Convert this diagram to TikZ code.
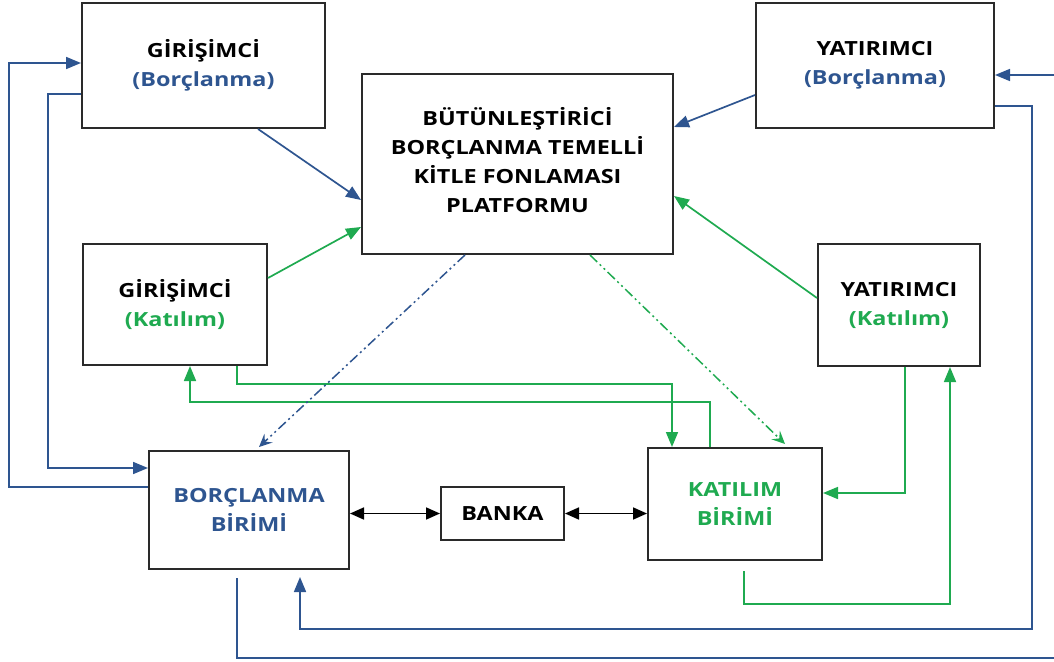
\documentclass[tikz,border=0pt]{standalone}
\usepackage{fontspec}
\setmainfont{Open Sans}[FakeStretch=1.2]
\usetikzlibrary{arrows.meta,calc}
\definecolor{blueC}{HTML}{2E5590}
\definecolor{greenC}{HTML}{1FAA50}
\definecolor{boxC}{HTML}{2A2A2A}
\tikzset{
  box/.style={draw=boxC, line width=2pt, fill=white, align=center, inner sep=0pt,
    font=\fontsize{19.5}{29}\selectfont\bfseries},
  bl/.style={draw=blueC, line width=1.7pt},
  gl/.style={draw=greenC, line width=1.7pt},
  tipB/.style={-{Triangle[length=15pt,width=12pt]}},
  dbl/.style={{Triangle[length=14pt,width=12pt]}-{Triangle[length=14pt,width=12pt]}, draw=black, line width=1.7pt},
  ddot/.style={dash pattern=on 10pt off 3.5pt on 2pt off 3.5pt on 2pt off 3.5pt, line width=1.5pt,
    -{Stealth[length=13pt,width=12pt,inset=5pt]}},
}
\begin{document}
\begin{tikzpicture}[x=1pt,y=-1pt]
\useasboundingbox (0,0) rectangle (1054,661);
% nodes
\node[box, minimum width=243pt, minimum height=125pt] (gb) at (203.5,65.5) {GİRİŞİMCİ\\\textcolor{blueC}{(Borçlanma)}};
\node[box, minimum width=311pt, minimum height=180pt, text depth=8pt] (plat) at (517.5,164) {BÜTÜNLEŞTİRİCİ\\BORÇLANMA TEMELLİ\\KİTLE FONLAMASI\\PLATFORMU};
\node[box, minimum width=238pt, minimum height=125pt] (yb) at (875,65.5) {YATIRIMCI\\\textcolor{blueC}{(Borçlanma)}};
\node[box, minimum width=184pt, minimum height=121pt] (gk) at (175,304.5) {GİRİŞİMCİ\\\textcolor{greenC}{(Katılım)}};
\node[box, minimum width=162pt, minimum height=122pt] (yk) at (899,305) {YATIRIMCI\\\textcolor{greenC}{(Katılım)}};
\node[box, minimum width=200pt, minimum height=118pt, text=blueC] (bb) at (249,510) {BORÇLANMA\\BİRİMİ};
\node[box, minimum width=123pt, minimum height=53pt] (bank) at (502.5,513.5) {BANKA};
\node[box, minimum width=174pt, minimum height=112pt, text=greenC] (kb) at (735,504) {KATILIM\\BİRİMİ};
\coordinate (edgeTop) at (1054,75);
\coordinate (edgeBot) at (1054,658);
% blue loops on the left
\draw[bl, tipB] (bb.west|-0,487) -- (9,487) -- (9,63) -- (gb.west|-0,63);
\draw[bl, tipB] (gb.west|-0,94) -- (48,94) -- (48,468) -- (bb.west|-0,468);
% to platform
\draw[bl, tipB] (gb.south-|258,0) -- (plat.west|-0,200);
\draw[gl, tipB] (gk.east|-0,278) -- (plat.west|-0,227);
\draw[bl, tipB] (yb.west|-0,95) -- (plat.east|-0,127);
\draw[gl, tipB] (yk.west|-0,298) -- (plat.east|-0,196);
% right blue
\draw[bl, tipB] (edgeTop) -- (yb.east|-edgeTop);
\draw[bl, tipB] (yb.east|-0,106) -- (1032,106) -- (1032,629) -- (300,629) -- ($(bb.south-|300,0)+(0,7)$);
\draw[bl] ($(bb.south-|237,0)+(0,8)$) -- (237,658) -- (edgeBot);
% green links
\draw[gl, tipB] (gk.south-|237,0) -- (237,384) -- (672,384) -- (kb.north-|672,0);
\draw[gl, tipB] (kb.north-|710,0) -- (710,402) -- (190,402) -- (gk.south-|190,0);
\draw[gl, tipB] (yk.south-|905,0) -- (905,493) -- (kb.east|-0,493);
\draw[gl, tipB] ($(kb.south-|744,0)+(0,10)$) -- (744,604) -- (950,604) -- (yk.south-|950,0);
% dash-dot
\draw[blueC, ddot] (plat.south-|465,0) -- ($(bb.north-|259,0)+(0,-3)$);
\draw[greenC, ddot] (plat.south-|590,0) -- ($(kb.north-|785,0)+(0,-3)$);
% bank arrows
\draw[dbl] (bb.east|-bank.west) -- (bank.west);
\draw[dbl] (bank.east) -- (kb.west|-bank.east);
\end{tikzpicture}
\end{document}
